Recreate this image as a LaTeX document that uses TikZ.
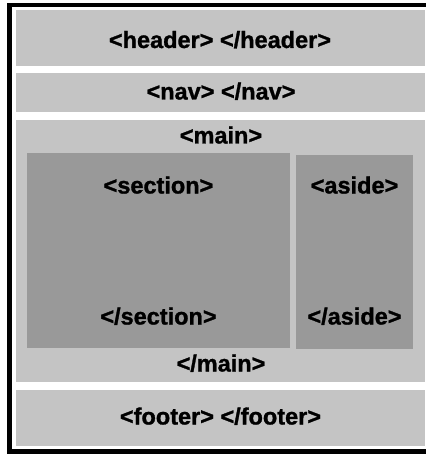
\documentclass[tikz,border=0pt]{standalone}
\usepackage{fontspec}
\setmainfont{Liberation Sans}[BoldFeatures={FakeBold=1.2}]
\definecolor{lightbox}{RGB}{196,196,196}
\definecolor{darkbox}{RGB}{153,153,153}
\begin{document}
\begin{tikzpicture}[x=1pt,y=-1pt,
  lbox/.style={fill=lightbox,draw=none,inner sep=0pt,outer sep=0pt,anchor=north west},
  dbox/.style={fill=darkbox,draw=none,inner sep=0pt,outer sep=0pt,anchor=north west},
  tag/.style={font=\fontsize{23.5}{28}\selectfont\bfseries,inner sep=0pt,anchor=base,text=black}]
\useasboundingbox (0,0) rectangle (425,454);
\fill[white] (0,0) rectangle (425,454);
% outer frame
\coordinate (ftl) at (9.5,5);
\coordinate (fbr) at (445,451.5);
\draw[line width=4.6pt] (ftl) rectangle (fbr);
% boxes
\node[lbox,minimum width=409pt,minimum height=56pt] (header) at (16,10) {};
\node[lbox,minimum width=409pt,minimum height=39pt] (nav) at (16,73) {};
\node[lbox,minimum width=409pt,minimum height=262pt] (main) at (16,120) {};
\node[lbox,minimum width=409pt,minimum height=56pt] (footer) at (16,390) {};
\node[dbox,minimum width=263pt,minimum height=195pt] (section) at (27,153) {};
\node[dbox,minimum width=117pt,minimum height=194pt] (aside) at (296,155) {};
% texts
\node[tag] (theader) at (220,48) {<header> </header>};
\node[tag] (tnav) at (221,99.5) {<nav> </nav>};
\node[tag] (tmain) at (221,143.5) {<main>};
\node[tag] (tsection) at (158.5,193.5) {<section>};
\node[tag] (tsectionend) at (158.5,324.5) {</section>};
\node[tag] (taside) at (354.5,193.5) {<aside>};
\node[tag] (tasideend) at (354.5,324.5) {</aside>};
\node[tag] (tmainend) at (221,371.5) {</main>};
\node[tag] (tfooter) at (220.5,424.5) {<footer> </footer>};
\end{tikzpicture}
\end{document}
